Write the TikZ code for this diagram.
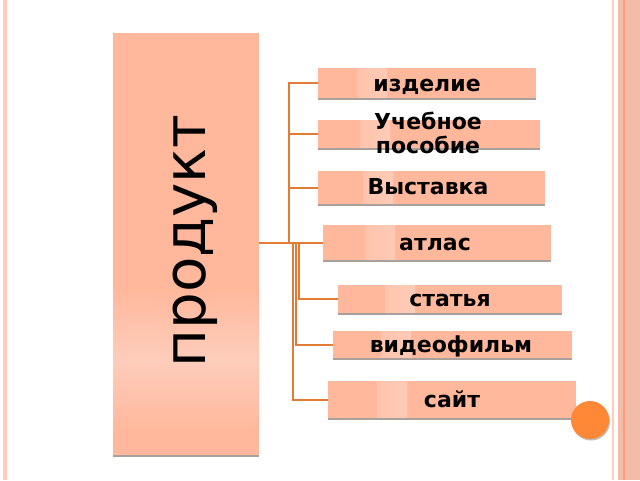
\documentclass[tikz,border=0pt]{standalone}
\usepackage{fontspec}
\setmainfont{DejaVu Sans}
\definecolor{boxfill}{HTML}{FFB89C}
\definecolor{panellight}{HTML}{FDCDBB}
\definecolor{conn}{HTML}{E27B36}
\definecolor{dotc}{HTML}{FF8837}
\definecolor{shadowc}{HTML}{A8A09C}
\definecolor{edgelight}{HTML}{FFCDB9}
\definecolor{edgeband}{HTML}{F3BCA8}
\definecolor{edgedark}{HTML}{F7A17B}
\tikzset{
  item/.style={fill=boxfill, inner sep=0pt, anchor=north west},
  label/.style={align=center, inner sep=0pt, font=\bfseries\fontsize{22}{24}\selectfont},
  band/.style={path picture={\shade[left color=boxfill, right color=boxfill,
    middle color=white!42!boxfill]
    ([xshift=#1pt]path picture bounding box.south west) rectangle
    ([xshift=#1pt+30pt]path picture bounding box.north west);}},
  conline/.style={draw=conn, line width=2pt},
  shadowline/.style={draw=shadowc, line width=1.6pt}
}
\begin{document}
\begin{tikzpicture}[x=1pt,y=-1pt]
\useasboundingbox (0,0) rectangle (640,480);
\fill[white] (0,0) rectangle (640,480);
% page edges
\draw[edgelight, line width=3.5pt] (5,0) -- (5,480);
\draw[edgelight, line width=2pt] (613.3,0) -- (613.3,480);
\fill[edgeband] (618,0) rectangle (640,480);
\draw[edgedark, line width=2pt] (623.7,0) -- (623.7,480);
% left panel
\draw[shadowline] (113,456.2) -- (259,456.2);
\node[fill=boxfill, inner sep=0pt, anchor=north west, minimum width=146pt,
  minimum height=422pt] (panel) at (113,33) {};
\shade[top color=boxfill, bottom color=boxfill, middle color=panellight]
  (113,290) rectangle (259,430);
\node[rotate=90, anchor=base, font=\fontsize{58}{60}\selectfont] (ptext)
  at (205,241) {продукт};
% boxes
\node[item, band=39, minimum width=218pt, minimum height=30pt] (b1) at (318,68) {};
\node[item, band=42, minimum width=222pt, minimum height=28pt] (b2) at (318,120) {};
\node[item, band=45, minimum width=227pt, minimum height=33pt] (b3) at (318,171) {};
\node[item, band=42, minimum width=228pt, minimum height=35pt] (b4) at (323,225) {};
\node[item, band=47, minimum width=224pt, minimum height=28pt] (b5) at (338,285) {};
\node[item, band=48, minimum width=239pt, minimum height=27pt] (b6) at (333,331) {};
\node[item, band=49, minimum width=248pt, minimum height=37pt] (b7) at (328,381) {};
\foreach \b in {b1,b2,b3,b4,b5,b6,b7}{
  \draw[shadowline] ([yshift=-0.8pt]\b.south west) -- ([yshift=-0.8pt]\b.south east);
}
\node[label, anchor=base] (t1) at (427,91) {изделие};
\node[label] (t2) at (428,133) {Учебное\\пособие};
\node[label, anchor=base] (t3) at (428,194) {Выставка};
\node[label, anchor=base] (t4) at (435,250) {атлас};
\node[label, anchor=base] (t5) at (450,306) {статья};
\node[label, anchor=base] (t6) at (451,352) {видеофильм};
\node[label, anchor=base] (t7) at (452,407) {сайт};
% connectors
\coordinate (j1) at (289,243);
\coordinate (j2) at (299,243);
\coordinate (j3) at (296,243);
\coordinate (j4) at (293,243);
\draw[conline] (panel.east |- b4.west) -- (b4.west);
\draw[conline] (b1.west) -| (j1);
\draw[conline] (b2.west) -- (b2.west -| j1);
\draw[conline] (b3.west) -- (b3.west -| j1);
\draw[conline] (j2) |- (b5.west);
\draw[conline] (j3) |- (b6.west);
\draw[conline] (j4) |- (b7.west);
% dot
\fill[shadowc!70] (591,421.5) circle (19);
\node[circle, fill=dotc, minimum size=38pt, inner sep=0pt] (dot) at (590,420) {};
\end{tikzpicture}
\end{document}
